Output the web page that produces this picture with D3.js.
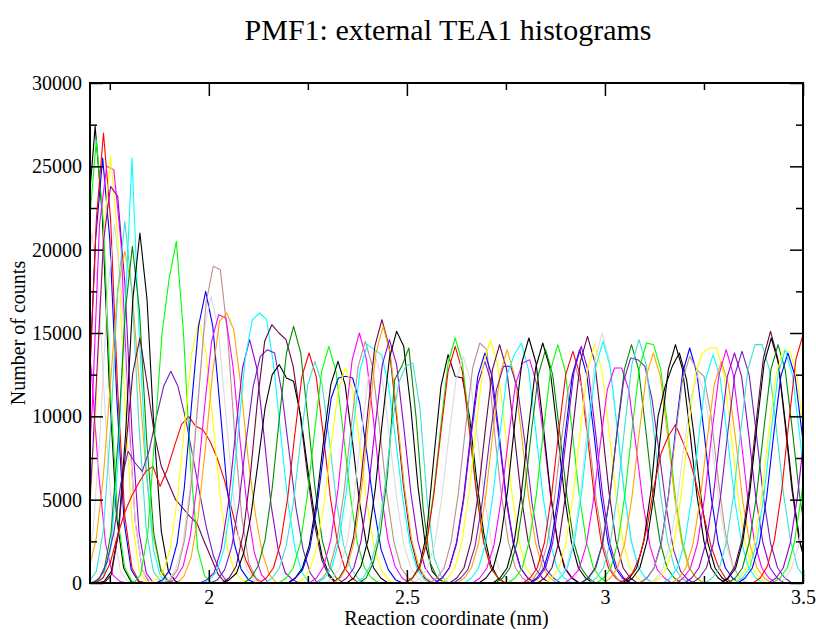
<!DOCTYPE html>
<html>
<head>
  <meta charset="utf-8">
  <title>PMF1: external TEA1 histograms</title>
  <script src="https://d3js.org/d3.v7.min.js"></script>
  <style>
    body { margin: 0; background: #fff; }
    text { font-family: "Liberation Serif", "Times New Roman", serif; }
  </style>
</head>
<body>
<script>
  // umbrella window histograms
  // each window: first bin position (nm), counts per bin in units of 100
  var binWidth = 0.018;
  var histStart = [
    1.577, 1.597, 1.605, 1.608, 1.624, 1.626, 1.634, 1.644, 1.644, 1.654,
    1.662, 1.68, 1.698, 1.699, 1.706, 1.718, 1.736, 1.715, 1.81, 1.849,
    1.866, 1.88, 1.885, 1.899, 1.919, 1.977, 1.984, 2.004, 2.033, 2.034,
    2.088, 2.127, 2.142, 2.177, 2.2, 2.201, 2.219, 2.254, 2.269, 2.274,
    2.294, 2.311, 2.314, 2.33, 2.348, 2.379, 2.371, 2.496, 2.496, 2.496,
    2.516, 2.558, 2.571, 2.571, 2.585, 2.608, 2.627, 2.618, 2.645, 2.666,
    2.682, 2.717, 2.724, 2.755, 2.793, 2.799, 2.81, 2.814, 2.83, 2.848,
    2.867, 2.869, 2.898, 2.941, 2.939, 2.96, 2.979, 2.996, 3.052, 3.044,
    3.034, 3.088, 3.088, 3.109, 3.12, 3.147, 3.168, 3.18, 3.201, 3.22,
    3.253, 3.292, 3.294, 3.311, 3.323, 3.336, 3.329, 3.374, 3.414, 3.424,
    3.434
  ];
  var histCounts = [
    [0,1,5,24,68,129,160,129,68,24,5,1,0],
    [0,1,7,31,90,170,210,170,90,31,7,1,0],
    [0,1,9,40,117,221,274,221,117,40,9,1,0],
    [0,1,9,39,114,215,266,215,114,39,9,1,0],
    [0,1,8,37,109,206,255,206,109,37,8,1,0],
    [0,1,9,40,115,218,270,218,115,40,9,1,0],
    [0,1,8,37,107,215,250,248,205,107,37,8,0],
    [0,1,8,38,109,207,256,207,109,38,8,1,0],
    [0,1,8,40,120,205,238,232,180,90,30,6,0],
    [0,1,7,32,92,174,215,174,92,32,7,1,0],
    [0,2,9,27,65,121,176,199,176,121,65,27,9,2,0],
    [0,1,7,32,93,175,217,175,93,32,7,1,0],
    [0,1,4,20,70,160,255,150,70,20,4,1,0],
    [0,1,7,30,86,163,202,163,86,30,7,1,0],
    [0,3,12,30,60,79,72,67,80,100,118,127,118,100,78,55,33,16,6,0],
    [0,1,7,31,90,170,210,170,90,31,7,1,0],
    [0,5,30,80,126,147,120,90,70,60,50,45,40,36,25,15,5,0],
    [0,3,12,28,42,52,60,67,70,58,68,82,95,100,94,92,85,75,62,45,28,14,5,0],
    [0,5,30,90,150,183,205,150,70,20,4,0],
    [0,2,7,21,51,95,138,157,138,95,51,21,7,2,0],
    [0,2,8,24,57,106,154,175,154,106,57,24,8,2,0],
    [0,2,8,23,56,104,152,172,152,104,56,23,8,2,0],
    [0,2,8,26,62,115,168,190,188,150,90,40,12,3,0],
    [0,3,10,28,60,105,145,161,159,130,85,45,18,5,0],
    [0,4,15,40,80,125,157,162,152,118,75,42,18,5,0],
    [0,2,6,20,47,89,129,146,129,89,47,20,6,2,0],
    [0,2,7,20,48,90,135,158,162,158,130,88,48,20,6,0],
    [0,2,8,22,48,85,118,136,140,138,115,80,45,20,6,0],
    [0,3,10,30,65,110,145,155,150,146,130,100,65,35,14,4,0],
    [0,2,6,18,40,72,105,125,131,123,121,100,68,38,16,5,0],
    [0,3,10,26,57,99,138,154,138,99,57,26,10,3,0],
    [0,3,9,24,51,89,124,138,124,89,51,24,9,3,0],
    [0,3,9,23,49,86,119,133,119,86,49,23,9,3,0],
    [0,3,9,24,53,91,127,142,127,91,53,24,9,3,0],
    [0,3,9,23,49,86,119,133,119,86,49,23,9,3,0],
    [0,3,8,21,46,80,111,123,124,123,108,78,45,20,8,2,0],
    [0,2,8,22,48,83,116,129,116,83,48,22,8,2,0],
    [0,3,10,26,56,97,134,150,134,97,56,26,10,3,0],
    [0,3,9,25,54,93,130,145,130,93,54,25,9,3,0],
    [0,3,9,25,53,92,128,143,140,137,118,85,50,23,8,2,0],
    [0,3,9,23,51,88,122,136,122,88,51,23,9,3,0],
    [0,3,10,27,59,102,142,158,142,102,59,27,10,3,0],
    [0,3,10,26,57,99,138,154,138,99,57,26,10,3,0],
    [0,3,9,25,54,94,131,146,131,94,54,25,9,3,0],
    [0,3,10,26,56,97,135,151,142,105,58,24,7,2,0],
    [0,3,12,30,65,122,130,141,100,45,12,3,0],
    [0,3,10,26,55,92,120,130,132,105,50,15,4,0],
    [0,3,10,30,75,118,137,124,123,100,62,30,11,3,0],
    [0,3,9,25,55,95,132,147,132,95,55,25,9,3,0],
    [0,3,9,24,53,91,127,142,127,91,53,24,9,3,0],
    [0,3,9,23,51,88,122,136,122,88,51,23,9,3,0],
    [0,3,9,25,54,93,129,144,140,93,54,25,9,3,0],
    [0,3,9,24,51,89,124,138,124,89,51,24,9,3,0],
    [0,3,9,23,49,86,119,133,119,86,49,23,9,3,0],
    [0,3,9,25,54,94,131,146,131,94,54,25,9,3,0],
    [0,3,9,25,53,92,128,143,128,92,53,25,9,3,0],
    [0,3,9,24,52,90,125,140,125,90,52,24,9,3,0],
    [0,3,8,22,48,84,116,130,130,116,84,48,22,8,3,0],
    [0,3,9,24,52,90,125,137,144,128,92,53,25,9,3,0],
    [0,3,9,23,50,86,119,132,134,119,86,50,23,9,3,0],
    [0,3,9,25,55,95,132,147,132,95,55,25,9,3,0],
    [0,3,9,25,54,93,129,144,129,93,54,25,9,3,0],
    [0,3,9,24,52,90,125,140,125,90,52,24,9,3,0],
    [0,3,9,25,53,92,128,143,128,92,53,25,9,3,0],
    [0,3,9,24,52,90,125,139,125,90,52,24,9,3,0],
    [0,2,8,22,48,84,116,130,116,84,48,22,8,2,0],
    [0,3,9,24,52,90,125,140,125,90,52,24,9,3,0],
    [0,3,9,24,53,91,127,142,127,91,53,24,9,3,0],
    [0,3,9,25,55,95,133,148,133,95,55,25,9,3,0],
    [0,3,9,25,53,92,128,143,128,92,53,25,9,3,0],
    [0,3,10,26,56,97,134,150,134,97,56,26,10,3,0],
    [0,3,9,25,54,93,130,145,130,93,54,25,9,3,0],
    [0,3,8,22,48,83,116,129,129,116,83,48,22,8,3,0],
    [0,3,9,25,53,92,128,143,128,92,53,25,9,3,0],
    [0,3,9,23,50,87,121,135,134,130,110,78,45,20,7,2,0],
    [0,3,9,25,54,94,131,146,131,94,54,25,9,3,0],
    [0,3,9,25,54,93,129,144,143,128,92,53,25,9,3,0],
    [0,3,9,24,51,89,124,138,124,89,51,24,9,3,0],
    [0,3,9,25,53,92,128,143,128,92,53,25,9,3,0],
    [0,3,9,25,55,100,118,130,138,122,90,52,24,9,3,0],
    [0,2,6,16,33,58,78,88,95,85,74,58,40,22,10,3,0],
    [0,3,9,24,52,91,126,141,126,91,52,24,9,3,0],
    [0,3,9,23,51,88,122,136,128,124,100,62,30,11,3,0],
    [0,2,8,22,47,81,112,125,112,81,47,22,8,2,0],
    [0,3,9,24,52,90,125,138,141,141,126,91,52,24,9,3,0],
    [0,3,9,24,51,88,123,137,123,88,51,24,9,3,0],
    [0,3,9,23,49,86,119,133,119,86,49,23,9,3,0],
    [0,3,9,24,52,90,125,140,125,90,52,24,9,3,0],
    [0,3,9,24,51,89,124,138,124,89,51,24,9,3,0],
    [0,3,9,24,52,90,125,139,125,90,52,24,9,3,0],
    [0,3,9,25,53,92,128,143,143,128,92,53,25,9,3,0],
    [0,3,10,26,56,97,135,151,135,97,56,26,10,3,0],
    [0,3,9,25,55,95,132,147,132,95,55,25,9,3,0],
    [0,3,9,25,53,92,128,143,128,92,53,25,9,3,0],
    [0,3,9,24,51,89,124,139,139,124,89,51,24,9,3,0],
    [0,3,9,24,51,89,124,138,124,89,51,24,9,3,0],
    [0,3,9,24,52,90,125,140,125,90,52,24,9,3,0],
    [0,3,10,26,55,96,134,149,134,96,55,26,10,3,0],
    [0,3,9,24,52,90,125,140,125,90,52,24,9,3,0],
    [0,3,9,24,52,90,125,140,125,90,52,24,9,3,0],
    [0,2,8,22,48,84,116,130,116,84,48,22,8,2,0]
  ];
  // grace colour number of each set
  var histColor = [
    10,7,1,3,4,2,10,5,8,7, 11,14,9,15,12,1,13,2,3,5,
    4,7,6,10,11,8,9,12,13,1, 15,2,14,3,1,4,5,10,6,9,
    7,13,11,8,1,15,14,1,3,2, 7,6,4,8,5,13,11,12,9,10,
    1,1,15,3,2,6,4,8,13,5, 7,9,10,15,12,14,3,11,1,1,
    2,4,6,7,5,9,11,10,8,12, 14,13,1,15,5,4,9,2,8,3,
    7
  ];
  var xMajor = [2, 2.5, 3, 3.5];
  var xMinor = [1.75, 2.25, 2.75, 3.25];
  var yMajor = [0, 5000, 10000, 15000, 20000, 25000, 30000];
  var yMinor = [2500, 7500, 12500, 17500, 22500, 27500];

  // grace default palette
  var palette = ["#ffffff", "#000000", "#ff0000", "#00ff00", "#0000ff", "#ffff00",
    "#bc8f8f", "#dcdcdc", "#9400d3", "#00ffff", "#ff00ff", "#ffa500",
    "#7221bc", "#670748", "#40e0d0", "#008b00"];

  var width = 816, height = 629;
  var plotL = 90, plotR = 803, plotT = 83, plotB = 583;

  var svg = d3.select("body").append("svg")
    .attr("width", width).attr("height", height);
  svg.append("rect").attr("width", width).attr("height", height).attr("fill", "#fff");

  var x = d3.scaleLinear().domain([1.7, 3.5]).range([plotL, plotR]);
  var y = d3.scaleLinear().domain([0, 30000]).range([plotB, plotT]);

  svg.append("clipPath").attr("id", "plot")
    .append("rect").attr("x", plotL).attr("y", plotT)
    .attr("width", plotR - plotL).attr("height", plotB - plotT);

  var line = d3.line().x(function(d) { return x(d[0]); }).y(function(d) { return y(d[1]); });

  var sets = histCounts.map(function(c, i) {
    return c.map(function(v, j) { return [histStart[i] + j * binWidth, v * 100]; });
  });

  svg.append("g").attr("clip-path", "url(#plot)")
    .selectAll("path")
    .data(sets)
    .enter()
    .append("path")
    .attr("d", line)
    .attr("fill", "none")
    .attr("stroke", function(d, i) { return palette[histColor[i]]; })
    .attr("stroke-width", 1.1)
    .attr("stroke-linejoin", "round");

  // axes, ticks pointing inwards on all four sides
  function style(g) {
    g.select(".domain").remove();
    g.selectAll("line").attr("stroke", "#000").attr("stroke-width", 1.5);
    g.selectAll("text").attr("font-family", '"Liberation Serif", "Times New Roman", serif')
      .attr("font-size", 20).attr("fill", "#000");
  }
  var fmt = d3.format("");

  svg.append("g").attr("transform", "translate(0," + plotB + ")")
    .call(d3.axisBottom(x).tickValues(xMajor).tickSize(-13).tickPadding(7).tickFormat(fmt)).call(style);
  svg.append("g").attr("transform", "translate(0," + plotB + ")")
    .call(d3.axisBottom(x).tickValues(xMinor).tickSize(-7).tickFormat("")).call(style);
  svg.append("g").attr("transform", "translate(0," + plotT + ")")
    .call(d3.axisTop(x).tickValues(xMajor).tickSize(-13).tickFormat("")).call(style);
  svg.append("g").attr("transform", "translate(0," + plotT + ")")
    .call(d3.axisTop(x).tickValues(xMinor).tickSize(-7).tickFormat("")).call(style);

  svg.append("g").attr("transform", "translate(" + plotL + ",0)")
    .call(d3.axisLeft(y).tickValues(yMajor).tickSize(-13).tickPadding(8).tickFormat(fmt)).call(style);
  svg.append("g").attr("transform", "translate(" + plotL + ",0)")
    .call(d3.axisLeft(y).tickValues(yMinor).tickSize(-7).tickFormat("")).call(style);
  svg.append("g").attr("transform", "translate(" + plotR + ",0)")
    .call(d3.axisRight(y).tickValues(yMajor).tickSize(-13).tickFormat("")).call(style);
  svg.append("g").attr("transform", "translate(" + plotR + ",0)")
    .call(d3.axisRight(y).tickValues(yMinor).tickSize(-7).tickFormat("")).call(style);

  svg.append("rect")
    .attr("x", plotL).attr("y", plotT)
    .attr("width", plotR - plotL).attr("height", plotB - plotT)
    .attr("fill", "none").attr("stroke", "#000").attr("stroke-width", 2);

  svg.append("text")
    .attr("x", 448).attr("y", 40)
    .attr("text-anchor", "middle").attr("font-size", 30)
    .text("PMF1: external TEA1 histograms");

  svg.append("text")
    .attr("x", (plotL + plotR) / 2).attr("y", 625)
    .attr("text-anchor", "middle").attr("font-size", 20)
    .text("Reaction coordinate (nm)");

  svg.append("text")
    .attr("transform", "translate(25," + ((plotT + plotB) / 2) + ") rotate(-90)")
    .attr("text-anchor", "middle").attr("font-size", 20)
    .text("Number of counts");
</script>
</body>
</html>
